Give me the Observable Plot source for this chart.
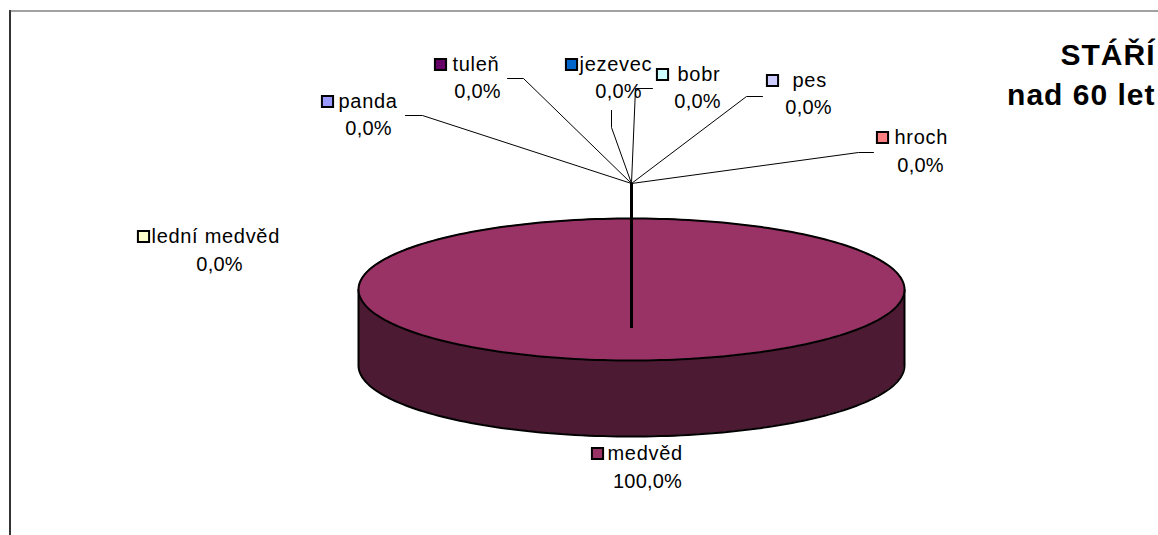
<!DOCTYPE html>
<html>
<head>
<meta charset="utf-8">
<script src="https://cdn.jsdelivr.net/npm/d3@7"></script>
<script src="https://cdn.jsdelivr.net/npm/@observablehq/plot@0.6"></script>
<style>
  html, body { margin: 0; padding: 0; background: #fff; }
  #chart { position: absolute; left: 0; top: 0; }
  #chart svg { display: block; }
  #chart g.names text { letter-spacing: 0.7px; }
  #chart g.pcts text { letter-spacing: 0.2px; }
  #chart g.title text { letter-spacing: 1px; }
</style>
</head>
<body>
<div id="chart"></div>
<script>
// ---- data ----
const categories = ["panda", "medvěd", "lední medvěd", "bobr", "tuleň", "hroch", "jezevec", "pes"];
const values = [0, 100, 0, 0, 0, 0, 0, 0];
const colors = ["#9999FF", "#993366", "#FFFFCC", "#CCFFFF", "#660066", "#FF8080", "#0066CC", "#CCCCFF"];
const titleLines = ["STÁŘÍ", "nad 60 let"];

// ---- layout (pixel positions of the label blocks, not data) ----
const W = 1158, H = 535;
const pie = {cx: 631, cy: 289, rx: 273, ry: 71, depth: 76, hubY: 328};
const hub = [631, 183];
const labelLayout = {
  "panda":        {sq: [327, 101], tx: 338, val: [368, 128], leader: [[405, 115], [422, 115]]},
  "medvěd":       {sq: [597, 453], tx: 607, val: [647, 481], leader: null},
  "lední medvěd": {sq: [143, 236], tx: 151, val: [219, 264], leader: null},
  "bobr":         {sq: [662, 74],  tx: 677, val: [697, 101], leader: [[652, 88], [635, 88]]},
  "tuleň":        {sq: [440, 64],  tx: 452, val: [477, 91],  leader: [[507, 78], [523, 78]]},
  "hroch":        {sq: [882, 137], tx: 894, val: [920, 165], leader: [[873, 152], [858, 152]]},
  "jezevec":      {sq: [571, 64],  tx: 579, val: [618, 91],  leader: [[611, 110], [611, 127]]},
  "pes":          {sq: [772, 80],  tx: 792, val: [808, 107], leader: [[762, 96], [746, 96]]}
};

// ---- derived ----
const total = d3.sum(values);
const fmtPct = v => d3.format(".1f")(v / total * 100).replace(".", ",") + "%";
const table = categories.map((c, i) => ({name: c, value: values[i], color: colors[i], pct: fmtPct(values[i]), ...labelLayout[c]}));

const N = 240;
const topEllipse = d3.range(N + 1).map(k => {
  const t = 2 * Math.PI * k / N;
  return {x: pie.cx + pie.rx * Math.cos(t), y: pie.cy + pie.ry * Math.sin(t)};
});
const frontHalf = d3.range(N / 2 + 1).map(k => {
  const t = Math.PI * k / (N / 2);
  return {x: pie.cx + pie.rx * Math.cos(t), y: pie.cy + pie.ry * Math.sin(t)};
});
const sideArea = frontHalf.map(p => ({x: p.x, y1: p.y, y2: p.y + pie.depth}));
const sideBottom = frontHalf.map(p => ({x: p.x, y: p.y + pie.depth}));
const topArea = frontHalf.map(p => ({x: p.x, y1: 2 * pie.cy - p.y, y2: p.y}));

// slices (via d3.pie); medvěd is the full ellipse
const arcs = d3.pie().sort(null).value(d => d.value)(table);

const leaders = [];
table.forEach(d => {
  if (d.leader) {
    const pts = [...d.leader, hub];
    pts.forEach((p, j) => leaders.push({name: d.name, x: p[0], y: p[1], o: j}));
  }
});

const marks = [
  // frame
  Plot.ruleX([9.5], {y1: 10, y2: H, stroke: "#333", strokeWidth: 2}),
  Plot.ruleY([10.5], {x1: 9, x2: W, stroke: "#444", strokeWidth: 1.2}),
  // side of the 3D pie
  Plot.areaY(sideArea, {x: "x", y1: "y1", y2: "y2", fill: "#4C1A33", curve: "linear"}),
  Plot.line(sideBottom, {x: "x", y: "y", stroke: "black", strokeWidth: 2}),
  Plot.ruleX([pie.cx - pie.rx, pie.cx + pie.rx], {y1: pie.cy, y2: pie.cy + pie.depth, stroke: "black", strokeWidth: 2}),
  // top face: slices
  ...arcs.filter(a => a.endAngle - a.startAngle > 0).map(a => {
    const full = a.endAngle - a.startAngle >= 2 * Math.PI - 1e-9;
    return full
      ? Plot.areaY(topArea, {x: "x", y1: "y1", y2: "y2", fill: a.data.color})
      : Plot.line(d3.range(61).map(k => {
          const t = a.startAngle + (a.endAngle - a.startAngle) * k / 60;
          return {x: pie.cx + pie.rx * Math.sin(t), y: pie.cy - pie.ry * Math.cos(t)};
        }).concat([{x: pie.cx, y: pie.cy}]), {x: "x", y: "y", fill: a.data.color, stroke: "black"});
  }),
  Plot.line(topEllipse, {x: "x", y: "y", stroke: "black", strokeWidth: 2}),
  // leader lines
  Plot.line(leaders, {x: "x", y: "y", z: "name", stroke: "black", strokeWidth: 1}),
  // zero-slice edge
  Plot.ruleX([hub[0]], {y1: hub[1], y2: pie.hubY, stroke: "black", strokeWidth: 3}),
  // labels
  Plot.dot(table, {x: d => d.sq[0], y: d => d.sq[1], symbol: "square", r: 6.3, fill: "color", stroke: "black", strokeWidth: 2}),
  Plot.text(table, {x: "tx", y: d => d.sq[1], text: "name", textAnchor: "start", lineAnchor: "middle", fontSize: 20, fill: "black", className: "names"}),
  Plot.text(table, {x: d => d.val[0], y: d => d.val[1], text: "pct", textAnchor: "middle", lineAnchor: "middle", fontSize: 20, fill: "black", className: "pcts"}),
  // title
  Plot.text([titleLines.join("\n")], {x: 1155, y: 36, text: d => d, textAnchor: "end", lineAnchor: "top", fontSize: 30, fontWeight: "bold", lineHeight: 1.33, fill: "black", className: "title"})
];

const chart = Plot.plot({
  width: W,
  height: H,
  margin: 0,
  style: {fontFamily: "'Liberation Sans', Arial, sans-serif", background: "white", overflow: "visible"},
  x: {type: "linear", domain: [0, W], range: [0, W], axis: null},
  y: {type: "linear", domain: [0, H], range: [0, H], axis: null},
  marks
});
document.getElementById("chart").appendChild(chart);
</script>
</body>
</html>
